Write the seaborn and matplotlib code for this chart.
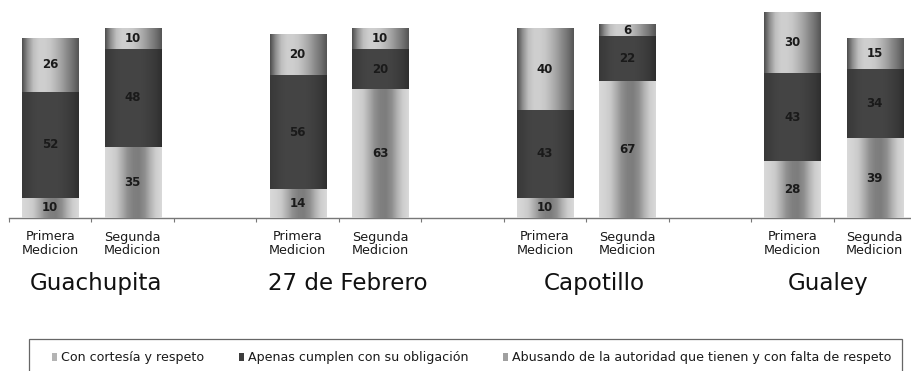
import numpy as np
import pandas as pd
import matplotlib
matplotlib.use("Agg")
import matplotlib.pyplot as plt
from matplotlib.patches import Patch, Rectangle
import matplotlib.transforms as mtransforms
import seaborn as sns

# ---------------- data ----------------
groups = ["Guachupita", "27 de Febrero", "Capotillo", "Gualey"]
mediciones = ["Primera\nMedicion", "Segunda\nMedicion"]
series = ["Con cortesía y respeto",
          "Apenas cumplen con su obligación",
          "Abusando de la autoridad que tienen y con falta de respeto"]
cortesia = [10, 35, 14, 63, 10, 67, 28, 39]
apenas = [52, 48, 56, 20, 43, 22, 43, 34]
abusando = [26, 10, 20, 10, 40, 6, 30, 15]

# ---------------- layout of slots ----------------
keys, order, tick_labels = [], [], []
for gi, g in enumerate(groups):
    for m in mediciones:
        k = f"{g}|{m}"
        keys.append(k)
        order.append(k)
        tick_labels.append(m)
    if gi < len(groups) - 1:
        order.append(" " * (gi + 1))
pos = {k: i for i, k in enumerate(order)}

df = pd.DataFrame({"slot": keys, "c": cortesia, "a": apenas, "b": abusando})
df["s1"] = df["c"]
df["s2"] = df["c"] + df["a"]
df["s3"] = df["c"] + df["a"] + df["b"]

sns.set_style("white")
plt.rcParams["font.family"] = ["DejaVu Sans"]

fig = plt.figure(figsize=(9.11, 3.71), dpi=100)
ax = fig.add_axes([9 / 911, 153 / 371, 907 / 911, 218 / 371])

# gradient profiles (left -> right gray levels)
xs = np.linspace(0, 1, 11)
profiles = {
    "c": [0.85, 0.83, 0.79, 0.68, 0.56, 0.50, 0.49, 0.56, 0.70, 0.81, 0.85],
    "a": [0.22, 0.24, 0.26, 0.27, 0.27, 0.27, 0.27, 0.26, 0.24, 0.22, 0.18],
    "b": [0.30, 0.56, 0.75, 0.81, 0.81, 0.78, 0.71, 0.63, 0.53, 0.44, 0.33],
}
flat = {"c": "#b4b4b4", "a": "#3d3d3d", "b": "#a0a0a0"}


def grad_img(key):
    fine = np.linspace(0, 1, 200)
    v = np.interp(fine, xs, profiles[key])
    return np.repeat(v[None, :, None], 3, axis=2)


layers = [("s3", "b", 2), ("s2", "a", 3), ("s1", "c", 4)]
for col, key, z in layers:
    n0 = len(ax.patches)
    sns.barplot(data=df, x="slot", y=col, order=order, color=flat[key],
                width=0.68, errorbar=None, ax=ax, saturation=1)
    for p in ax.patches[n0:]:
        x0, w, y0, h = p.get_x(), p.get_width(), p.get_y(), p.get_height()
        if h <= 0:
            continue
        p.set_facecolor("none")
        p.set_edgecolor("none")
        im = ax.imshow(grad_img(key), extent=(x0, x0 + w, y0, y0 + h),
                       aspect="auto", interpolation="bilinear", zorder=z)
        im.set_clip_path(p)

# value labels
for i, k in enumerate(keys):
    x = pos[k]
    c, a, b = cortesia[i], apenas[i], abusando[i]
    for val, mid in ((c, c / 2), (a, c + a / 2), (b, c + a + b / 2)):
        ax.text(x, mid, f"{val}", ha="center", va="center", fontsize=8.5,
                fontweight="bold", color="#1a1a1a", zorder=10)

ax.set_xlim(-0.5, len(order) - 0.5)
ax.set_ylim(0, 218 / 2.04)
ax.set_xticks([pos[k] for k in keys])
ax.set_xticklabels(tick_labels, fontsize=9.2, color="#1a1a1a", linespacing=1.0)
ax.set_xticks(np.arange(-0.5, len(order), 1.0), minor=True)
ax.tick_params(axis="x", which="major", length=0, pad=9)
ax.tick_params(axis="x", which="minor", length=3, direction="out",
               color="#777777", width=0.8, bottom=True)
ax.set_yticks([])
ax.set_xlabel("")
ax.set_ylabel("")
for s in ["top", "right", "left"]:
    ax.spines[s].set_visible(False)
ax.spines["bottom"].set_color("#777777")
ax.spines["bottom"].set_linewidth(1.0)
ax.set_facecolor("white")

# group labels (small horizontal nudges in pixels, as in the original)
nudges_px = [4.5, 9, 8, -5.5]
for gi, g in enumerate(groups):
    xc = (pos[f"{g}|{mediciones[0]}"] + pos[f"{g}|{mediciones[1]}"]) / 2
    tr = ax.get_xaxis_transform() + mtransforms.ScaledTranslation(
        nudges_px[gi] / 100, 0, fig.dpi_scale_trans)
    ax.text(xc, -0.30, g, transform=tr, ha="center",
            va="center", fontsize=16.6, color="#111111")

# legend frame (open at the bottom edge of the picture)
fig.patches.append(Rectangle((29 / 911, 1 - 372 / 371), (902 - 29) / 911,
                             (372 - 339) / 371, transform=fig.transFigure,
                             facecolor="white", edgecolor="#666666",
                             linewidth=0.9, zorder=0))

# legend
handles = [Patch(facecolor=flat["c"], edgecolor="none"),
           Patch(facecolor=flat["a"], edgecolor="none"),
           Patch(facecolor=flat["b"], edgecolor="none")]
leg = fig.legend(handles, series, loc="center left",
                 bbox_to_anchor=(52 / 911, 1 - 358 / 371), ncol=3,
                 fontsize=9.1, frameon=False, handlelength=0.4,
                 handleheight=0.55, handletextpad=0.3, columnspacing=2.75,
                 borderpad=0, borderaxespad=0)
for t in leg.get_texts():
    t.set_color("#1a1a1a")

fig.savefig("out.png", dpi=100)
